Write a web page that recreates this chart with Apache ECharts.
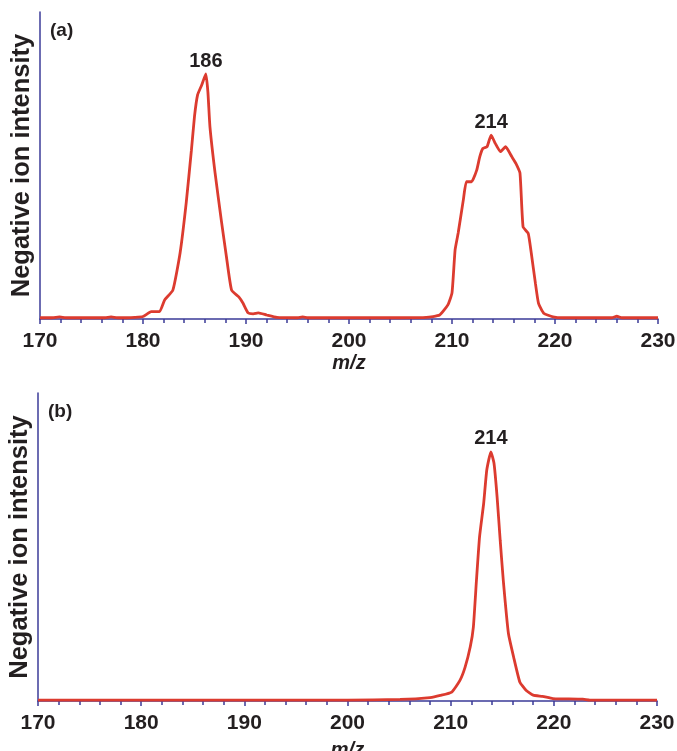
<!DOCTYPE html>
<html>
<head><meta charset="utf-8"></head>
<script type="text/javascript" src="https://cdn.jsdelivr.net/npm/echarts@6/dist/echarts.min.js"></script>
<body style="margin:0;background:#ffffff;">
    <div id="main" style="width:677px;height:751px;"></div>
</body>
<script type="text/javascript">
// panel (a): m/z vs intensity
var massA = [170, 171.2, 171.9, 172.5, 174, 176.3, 176.9, 177.5, 178.5, 179.2, 180, 180.8, 181.6, 182.1, 182.9, 183.6, 184.2, 184.7, 185.0, 185.3, 185.7, 186.1, 186.3, 186.5, 187.0, 187.6, 188.1, 188.6, 189.3, 189.7, 190.2, 190.7, 191.2, 192, 193, 195, 195.5, 196, 200, 205, 207.5, 208.8, 209.6, 210.0, 210.3, 210.6, 211.1, 211.4, 211.9, 212.4, 212.7, 213.0, 213.4, 213.8, 214.2, 214.7, 215.2, 215.8, 216.2, 216.6, 216.9, 217.4, 217.7, 218.1, 218.4, 218.9, 219.8, 220.8, 225.5, 226, 226.5, 230]
var intensityA = [0.4, 0.4, 0.7, 0.4, 0.4, 0.4, 0.7, 0.4, 0.4, 0.5, 0.8, 2.4, 2.4, 6.2, 9.4, 21.5, 38, 55, 66, 73, 76.2, 79.8, 74, 62.6, 47.5, 32.2, 20.3, 9.4, 7.2, 5.2, 2, 1.7, 2, 1.3, 0.5, 0.4, 0.7, 0.4, 0.4, 0.4, 0.5, 1.3, 4.6, 8.5, 22.5, 28, 38.8, 44.7, 44.7, 48.5, 52.9, 55.6, 56.1, 59.9, 57.2, 54.5, 56.1, 52.9, 50.7, 47.5, 30, 27.9, 21.4, 11.6, 5.1, 1.9, 0.7, 0.4, 0.4, 0.9, 0.4, 0.4]
// panel (b)
var massB = [170, 180, 190, 200, 205.1, 208, 209, 210.1, 210.9, 211.4, 211.9, 212.2, 212.5, 212.8, 213.2, 213.5, 213.9, 214.2, 214.5, 214.8, 215.1, 215.6, 216.1, 216.7, 217.3, 218, 218.9, 219.9, 220.9, 222.8, 223.5, 230]
var intensityB = [0.3, 0.3, 0.3, 0.3, 0.5, 1.1, 1.8, 2.9, 6.7, 11, 17.6, 24, 39.2, 53.3, 64.2, 75, 80.9, 77.2, 66.3, 52.2, 39.2, 21.9, 14.3, 6.2, 3.5, 1.9, 1.5, 0.8, 0.7, 0.6, 0.3, 0.3]
// peak labels
var peaksA = [['186', 186.1, 79.8], ['214', 213.8, 59.9]]
var peaksB = [['214', 213.9, 80.9]]
var panelNames = ['(a)', '(b)']
var xTitle = 'm/z'
var yTitle = 'Negative ion intensity'

var axisColor = '#3b3b98'
var lineColor = '#dc3b2f'
var textColor = '#231f20'
var font = 'Arial, "Liberation Sans", sans-serif'

function pairs(xs, ys){
    var out = []
    for (var i = 0; i < xs.length; i++) out.push([xs[i], ys[i]])
    return out
}
function peakPoints(list){
    return list.map(function(p){ return {name: p[0], coord: [p[1], p[2]]} })
}
function xAxisOf(idx, gap){
    return {
        gridIndex: idx, type: 'value', min: 170, max: 230, interval: 10,
        name: xTitle, nameLocation: 'middle', nameGap: gap,
        nameTextStyle: {fontFamily: font, fontSize: 20, fontWeight: 'bold', fontStyle: 'italic', color: textColor},
        axisLine: {lineStyle: {color: axisColor, width: 1.5}},
        axisTick: {show: true, length: 5, lineStyle: {color: axisColor, width: 1.5}},
        minorTick: {show: true, splitNumber: 5, length: 4, lineStyle: {color: axisColor, width: 1.5}},
        axisLabel: {margin: 12, fontFamily: font, fontSize: 21, fontWeight: 'bold', color: textColor},
        splitLine: {show: false}
    }
}
function yAxisOf(idx){
    return {
        gridIndex: idx, type: 'value', min: 0, max: 100,
        name: yTitle, nameLocation: 'middle', nameRotate: 90, nameGap: 5,
        nameTextStyle: {fontFamily: font, fontSize: 25.5, fontWeight: 'bold', color: textColor},
        axisLine: {show: true, lineStyle: {color: axisColor, width: 1.5}},
        axisTick: {show: false},
        axisLabel: {show: false},
        splitLine: {show: false}
    }
}
function seriesOf(idx, xs, ys, peaks){
    return {
        type: 'line', xAxisIndex: idx, yAxisIndex: idx,
        data: pairs(xs, ys), showSymbol: false, smooth: 0.15,
        lineStyle: {color: lineColor, width: 2.8},
        markPoint: {
            symbol: 'circle', symbolSize: 0,
            label: {show: true, position: 'top', distance: 3, formatter: '{b}',
                fontFamily: font, fontSize: 20, fontWeight: 'bold', color: textColor},
            data: peakPoints(peaks)
        }
    }
}

var myChart = echarts.init(document.getElementById('main'))
myChart.setOption({
    animation: false,
    title: [
        {text: panelNames[0], left: 45, top: 16, textStyle: {fontFamily: font, fontSize: 19, fontWeight: 'bold', color: textColor}},
        {text: panelNames[1], left: 43, top: 397, textStyle: {fontFamily: font, fontSize: 19, fontWeight: 'bold', color: textColor}}
    ],
    grid: [
        {left: 40, top: 12, width: 618, height: 307, outerBoundsMode: 'none', containLabel: false},
        {left: 38, top: 393, width: 619, height: 308, outerBoundsMode: 'none', containLabel: false}
    ],
    xAxis: [xAxisOf(0, 34), xAxisOf(1, 39)],
    yAxis: [yAxisOf(0), yAxisOf(1)],
    series: [
        seriesOf(0, massA, intensityA, peaksA),
        seriesOf(1, massB, intensityB, peaksB)
    ]
})
</script>
</html>
